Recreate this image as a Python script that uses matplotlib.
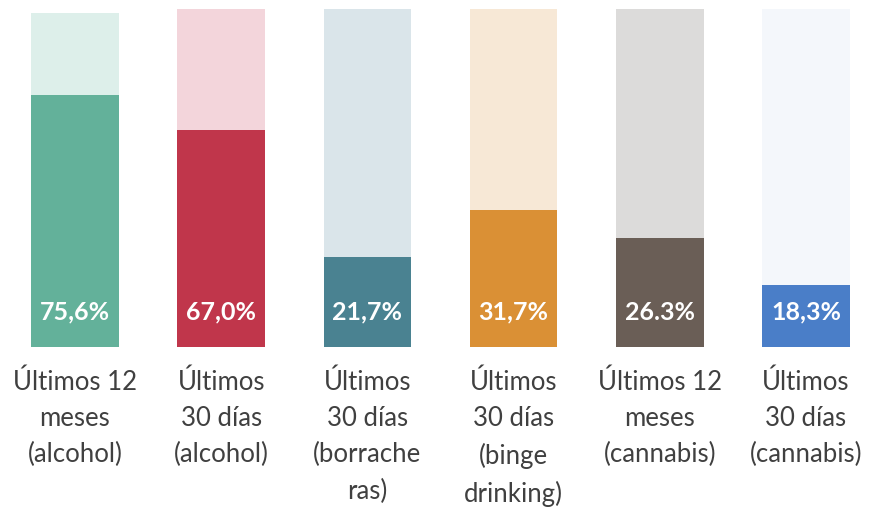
import matplotlib
matplotlib.use('Agg')
import matplotlib.pyplot as plt

# categories and values as printed on the bars
categories = ['Últimos 12\nmeses\n(alcohol)', 'Últimos\n30 días\n(alcohol)',
              'Últimos\n30 días\n(borrache\nras)', 'Últimos\n30 días\n(binge\ndrinking)',
              'Últimos 12\nmeses\n(cannabis)', 'Últimos\n30 días\n(cannabis)']
value_labels = ['75,6%', '67,0%', '21,7%', '31,7%', '26.3%', '18,3%']
# bar heights as drawn in the picture (percent of the full column)
heights = [74.6, 64.2, 26.6, 40.5, 32.2, 18.3]
full = [98.8, 100, 100, 100, 100, 100]

dark = ['#63b19a', '#c0364b', '#4a8291', '#da9035', '#6a5e56', '#4a7ec8']
light = ['#ddefea', '#f3d5db', '#dae5ea', '#f7e8d6', '#dcdbda', '#f4f7fb']

plt.rcParams['font.family'] = ['Lato', 'DejaVu Sans']

fig = plt.figure(figsize=(8.7, 5.1), dpi=100)
ax = fig.add_axes([0, 0, 1, 1])

x = range(len(categories))
ax.bar(x, full, width=0.6, color=light)
ax.bar(x, heights, width=0.6, color=dark)

for i, lab in enumerate(value_labels):
    ax.text(i, 10.6, lab, ha='center', va='center', color='white',
            fontsize=18, fontweight='bold')
    ax.text(i, -6.3, categories[i], ha='center', va='top', color='#404040',
            fontsize=18.5, fontweight='normal', linespacing=1.56)

ax.set_xlim(-0.513, 5.438)
ax.set_ylim(-47.9, 103)
ax.axis('off')

fig.savefig('out.png', dpi=100)
